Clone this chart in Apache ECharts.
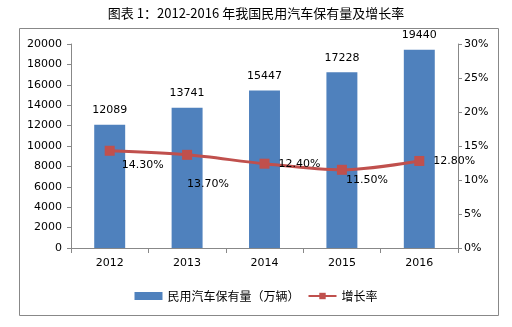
<!DOCTYPE html>
<html>
<head>
<meta charset="utf-8">
<script src="https://cdn.jsdelivr.net/npm/echarts@6/dist/echarts.min.js"></script>
<style>
html,body{margin:0;padding:0;background:#fff;}
#chart{width:512px;height:327px;}
</style>
</head>
<body>
<div id="chart"></div>
<script>
// Car ownership (10k vehicles) and year-on-year growth rate, 2012-2016
const years = ['2012', '2013', '2014', '2015', '2016'];
const ownership = [12089, 13741, 15447, 17228, 19440];
const growth = [14.3, 13.7, 12.4, 11.5, 12.8];
const growthLabels = ['14.30%', '13.70%', '12.40%', '11.50%', '12.80%'];

// label placement for each growth point
const growthLabelPos = [
  { position: 'right', offset: [2, 14] },
  { position: 'right', offset: [-10, 29] },
  { position: 'right', offset: [4, 0] },
  { position: 'right', offset: [-6, 10] },
  { position: 'right', offset: [4, 0] }
];

const FONT = '"Noto Sans CJK SC", "DejaVu Sans", sans-serif';
const NUMFONT = '"DejaVu Sans", "Noto Sans CJK SC", sans-serif';
const chart = echarts.init(document.getElementById('chart'), null, { renderer: 'canvas' });

chart.setOption({
  animation: false,
  backgroundColor: '#fff',
  textStyle: { fontFamily: FONT },
  title: {
    text: '图表 1：2012-2016 年我国民用汽车保有量及增长率',
    left: 'center',
    top: 2,
    textStyle: { fontSize: 13, fontWeight: 'normal', color: '#000', fontFamily: FONT }
  },
  graphic: [{
    type: 'rect',
    shape: { x: 19.5, y: 28.5, width: 479, height: 287 },
    style: { fill: 'none', stroke: '#888', lineWidth: 1 },
    silent: true
  }],
  grid: { left: 71, right: 54, top: 44, bottom: 79 },
  legend: {
    bottom: 20,
    left: 'center',
    itemGap: 8,
    itemWidth: 28,
    itemHeight: 8,
    textStyle: { fontSize: 12, color: '#000', fontFamily: FONT },
    data: [
      { name: '民用汽车保有量（万辆）', icon: 'rect' },
      { name: '增长率' }
    ]
  },
  xAxis: {
    type: 'category',
    data: years,
    axisLine: { lineStyle: { color: '#888' } },
    axisTick: { show: true, length: 5, lineStyle: { color: '#888' } },
    axisLabel: { fontSize: 11, color: '#000', margin: 10, fontFamily: NUMFONT }
  },
  yAxis: [{
    type: 'value',
    min: 0, max: 20000, interval: 2000,
    axisLine: { show: true, lineStyle: { color: '#888' } },
    axisTick: { show: true, length: 4, lineStyle: { color: '#888' } },
    splitLine: { show: false },
    axisLabel: { fontSize: 11, color: '#000', margin: 9, fontFamily: NUMFONT, formatter: v => String(v) }
  }, {
    type: 'value',
    min: 0, max: 30, interval: 5,
    position: 'right',
    axisLine: { show: true, lineStyle: { color: '#888' } },
    axisTick: { show: true, length: 4, lineStyle: { color: '#888' } },
    splitLine: { show: false },
    axisLabel: { fontSize: 11, color: '#000', margin: 6, formatter: '{value}%', fontFamily: NUMFONT }
  }],
  series: [{
    name: '民用汽车保有量（万辆）',
    type: 'bar',
    data: ownership,
    barWidth: '40%',
    itemStyle: { color: '#4F81BD' },
    label: { show: true, position: 'top', distance: 9, fontSize: 11, color: '#000', fontFamily: NUMFONT }
  }, {
    name: '增长率',
    type: 'line',
    yAxisIndex: 1,
    smooth: 0.3,
    symbol: 'rect',
    symbolSize: 10,
    lineStyle: { color: '#C0504D', width: 3 },
    itemStyle: { color: '#C0504D' },
    data: growth.map((v, i) => ({
      value: v,
      label: {
        show: true,
        position: growthLabelPos[i].position,
        offset: growthLabelPos[i].offset,
        formatter: growthLabels[i],
        fontSize: 11,
        color: '#000',
        fontFamily: NUMFONT
      }
    }))
  }]
});
</script>
</body>
</html>
